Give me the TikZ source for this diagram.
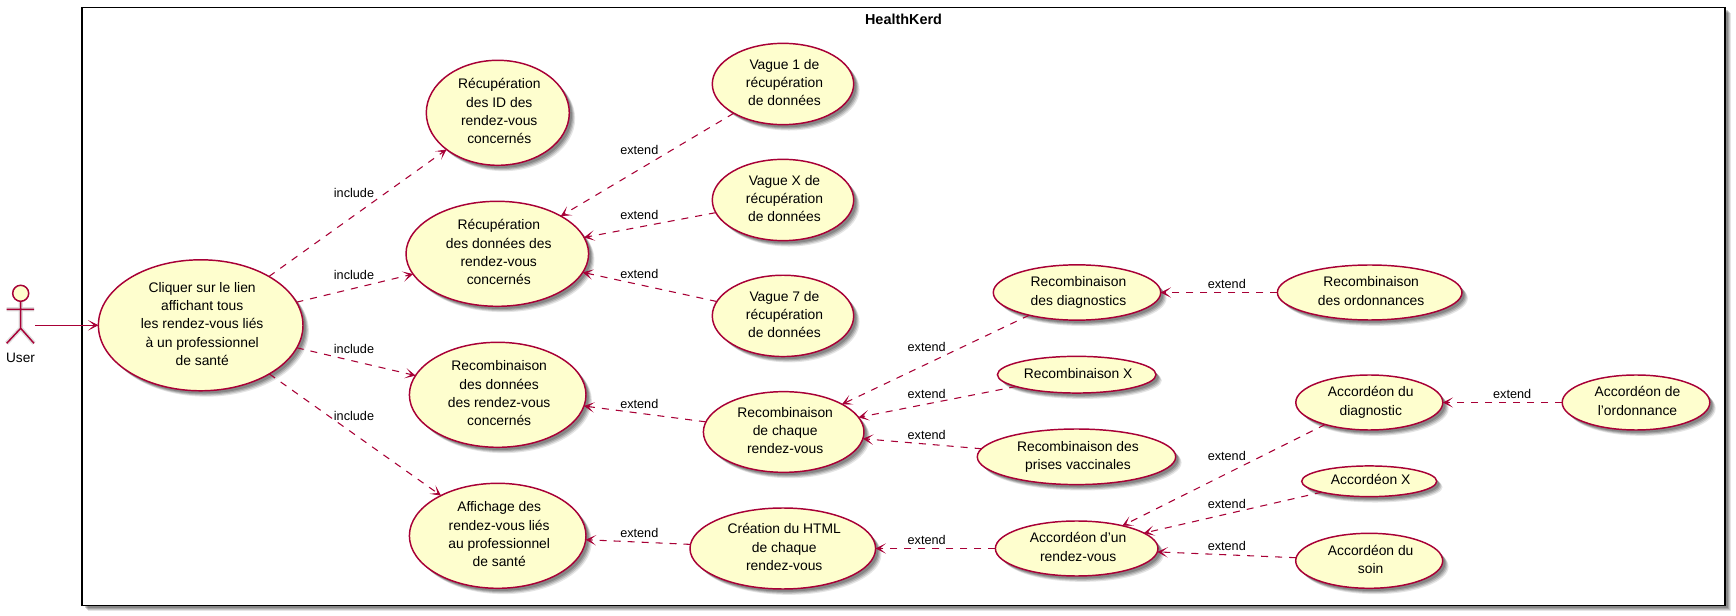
\documentclass[tikz,border=0pt]{standalone}
\usepackage{fontspec}
\setmainfont{Liberation Sans}
\usetikzlibrary{arrows.meta,shapes.geometric,shadows}
\definecolor{crim}{HTML}{A80036}
\definecolor{ucfill}{HTML}{FEFECE}
\renewcommand{\arraystretch}{1.035}
\newcommand{\uct}[1]{\makebox[0pt]{\hspace{2.2pt}\raisebox{-2.4pt}[0pt][0pt]{\begin{tabular}{@{}c@{}}#1\end{tabular}}}}
\tikzset{
  softshadow/.style={
    general shadow={shadow xshift=4.4pt,shadow yshift=-4.4pt,fill=black,opacity=.10},
    general shadow={shadow xshift=3.6pt,shadow yshift=-3.6pt,fill=black,opacity=.14},
    general shadow={shadow xshift=2.8pt,shadow yshift=-2.8pt,fill=black,opacity=.16},
    general shadow={shadow xshift=2.0pt,shadow yshift=-2.0pt,fill=black,opacity=.18}},
  uc/.style 2 args={ellipse,draw=crim,fill=ucfill,line width=1.1pt,inner sep=0pt,outer sep=0pt,
    minimum width=#1*0.75pt,minimum height=#2*0.75pt,softshadow,
    font=\fontsize{10.4}{13.25}\selectfont},
  lbl/.style={font=\fontsize{9.5}{12}\selectfont,inner sep=0pt},
  head/.style={-{Stealth[length=7.8pt,width=7.8pt,inset=4.6pt,line width=.5pt]}},
  plain/.style={draw=crim,line width=.8pt,head},
  dep/.style={plain,dash pattern=on 5.25pt off 5.25pt},
}
\begin{document}
\begin{tikzpicture}[x=0.75pt,y=-0.75pt]
\useasboundingbox (0,0) rectangle (1736,616);
\node[draw=black,line width=1.3pt,fill=white,inner sep=0pt,minimum width=1642.7*0.75pt,minimum height=598*0.75pt,softshadow] (sys) at (903.6,306.5) {};
\node[font=\bfseries\fontsize{10.8}{13}\selectfont,inner sep=0pt] (title) at (903.5,18.9) {HealthKerd};
% actor
\coordinate (headc) at (20.7,293.3);
\coordinate (neck) at (20.7,301.3);
\coordinate (hip) at (20.7,328.3);
\coordinate (armL) at (6.7,309.3);
\coordinate (armR) at (34,309.3);
\coordinate (legL) at (6.7,343.3);
\coordinate (legR) at (34,343.3);
\coordinate (actorout) at (35,325.3);
\begin{scope}[shift={(4.5,4)},draw=black!13,line width=3.2pt]
  \draw (neck) -- (hip) (armL) -- (armR) (legL) -- (hip) -- (legR);
  \fill[black!30] (headc) circle (8.6*0.75pt);
\end{scope}
\draw[crim,fill=ucfill,line width=1.1pt] (headc) circle (8*0.75pt);
\draw[crim,line width=1.1pt] (neck) -- (hip) (armL) -- (armR) (legL) -- (hip) -- (legR);
\node[font=\fontsize{10.25}{12}\selectfont,inner sep=0pt] (user) at (20.5,358) {User};
% use cases
\node[uc={204.6}{131}] (main) at (200.7,325.3) {\uct{Cliquer sur le lien\\affichant tous\\les rendez-vous liés\\à un professionnel\\de santé}};
\node[uc={143}{105}] (r1) at (497.8,112.8) {\uct{Récupération\\des ID des\\rendez-vous\\concernés}};
\node[uc={182.6}{105}] (r2) at (497.3,253.8) {\uct{Récupération\\des données des\\rendez-vous\\concernés}};
\node[uc={176.6}{105}] (r3) at (497.7,394.8) {\uct{Recombinaison\\des données\\des rendez-vous\\concernés}};
\node[uc={176.6}{105}] (r4) at (497.7,535.8) {\uct{Affichage des\\rendez-vous liés\\au professionnel\\de santé}};
\node[uc={141.4}{81.3}] (v1) at (783,84) {\uct{Vague 1 de\\récupération\\de données}};
\node[uc={141.4}{81.3}] (vx) at (783,200) {\uct{Vague X de\\récupération\\de données}};
\node[uc={141.4}{81.3}] (v7) at (783,315.9) {\uct{Vague 7 de\\récupération\\de données}};
\node[uc={160.6}{80.7}] (rc) at (783.7,432) {\uct{Recombinaison\\de chaque\\rendez-vous}};
\node[uc={185.6}{81}] (html) at (782.8,548.5) {\uct{Création du HTML\\de chaque\\rendez-vous}};
\node[uc={167.4}{55.3}] (rd) at (1077,292.5) {\uct{Recombinaison\\des diagnostics}};
\node[uc={158.6}{36.7}] (rx) at (1076.7,374.7) {\uct{Recombinaison X}};
\node[uc={198.4}{55.6}] (rp) at (1076.5,456.8) {\uct{Recombinaison des\\prises vaccinales}};
\node[uc={162.6}{55}] (ar) at (1076.7,548.5) {\uct{Accordéon d'un\\rendez-vous}};
\node[uc={184.6}{55}] (ro) at (1369.7,292.5) {\uct{Recombinaison\\des ordonnances}};
\node[uc={147}{55}] (ad) at (1369.3,402.5) {\uct{Accordéon du\\diagnostic}};
\node[uc={147.6}{55}] (ao) at (1636,402.5) {\uct{Accordéon de\\l'ordonnance}};
\node[uc={135}{30.7}] (ax) at (1369.2,481.3) {\uct{Accordéon X}};
\node[uc={147}{55}] (as) at (1369.2,560.8) {\uct{Accordéon du\\soin}};
% connectors
\draw[plain] (actorout) -- (main);
\foreach \a/\b in {main/r1,main/r2,main/r3,main/r4,
  v1/r2,vx/r2,v7/r2,rc/r3,html/r4,
  rd/rc,rx/rc,rp/rc,ar/html,ro/rd,
  ad/ar,ax/ar,as/ar,ao/ad}
  \draw[dep] (\a) -- (\b);
% labels
\node[lbl] (i1) at (354,192.5) {include};
\node[lbl] (i2) at (354,275.3) {include};
\node[lbl] (i3) at (354,349.2) {include};
\node[lbl] (i4) at (354,416.3) {include};
\node[lbl] (e1) at (639.3,150.3) {extend};
\node[lbl] (e2) at (639.3,215.3) {extend};
\node[lbl] (e3) at (639.3,273.7) {extend};
\node[lbl] (e4) at (639.3,403.5) {extend};
\node[lbl] (e5) at (639.3,532.7) {extend};
\node[lbl] (e6) at (926.7,346.5) {extend};
\node[lbl] (e7) at (926.7,393.7) {extend};
\node[lbl] (e8) at (926.7,435.3) {extend};
\node[lbl] (e9) at (926.7,539.7) {extend};
\node[lbl] (e10) at (1226.8,284.3) {extend};
\node[lbl] (e11) at (1226.8,456.3) {extend};
\node[lbl] (e12) at (1226.8,503.7) {extend};
\node[lbl] (e13) at (1226.8,545.7) {extend};
\node[lbl] (e14) at (1512.2,394.3) {extend};
\end{tikzpicture}
\end{document}
